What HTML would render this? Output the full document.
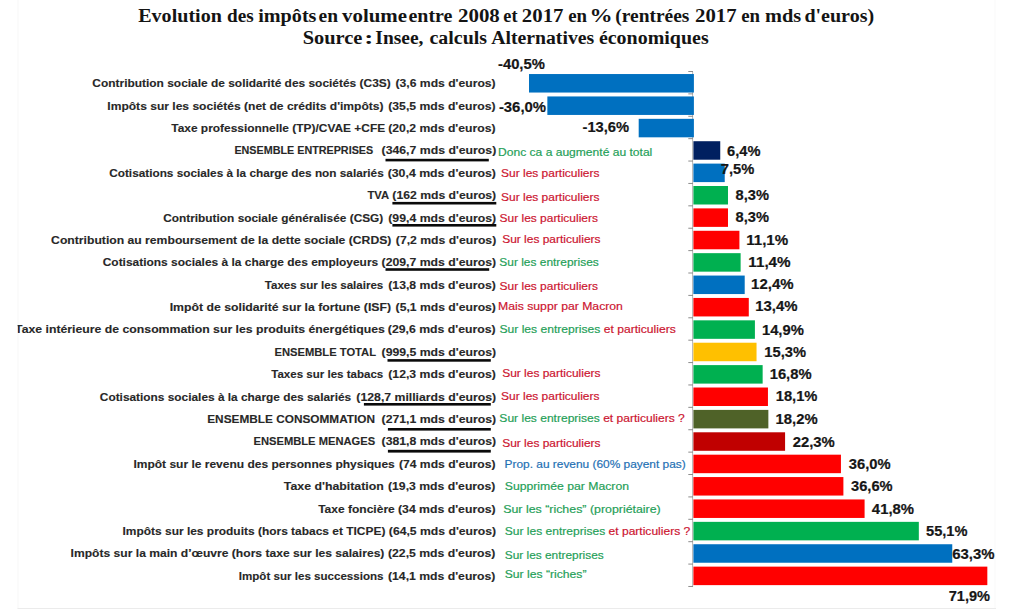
<!DOCTYPE html><html><head><meta charset="utf-8"><style>html,body{margin:0;padding:0;background:#fff;width:1017px;height:614px;overflow:hidden}svg{display:block}text{white-space:pre}.lb{font-family:"Liberation Sans",sans-serif;font-weight:bold;font-size:11.4px;fill:#282828;stroke:#282828;stroke-width:0.12px}.vl{font-family:"Liberation Sans",sans-serif;font-weight:bold;font-size:14px;fill:#161616;stroke:#161616;stroke-width:0.2px}.an{font-family:"Liberation Sans",sans-serif;font-size:10.7px;stroke-width:0.18px}.tt{font-family:"Liberation Serif",serif;font-weight:bold;font-size:19.6px;fill:#141414}</style></head><body>
<svg width="1017" height="614" viewBox="0 0 1017 614">
<rect width="1017" height="614" fill="#fff"/>
<defs><clipPath id="cl"><rect x="17.6" y="0" width="1000" height="614"/></clipPath></defs>
<line x1="18" y1="0" x2="18" y2="608.5" stroke="#f7f7f7" stroke-width="1"/>
<line x1="995" y1="0" x2="995" y2="608.5" stroke="#f9f9f9" stroke-width="1"/>
<line x1="17.5" y1="608.5" x2="996" y2="608.5" stroke="#ebebeb" stroke-width="1"/>
<text x="138.20" y="21.80" class="tt" textLength="83.66" lengthAdjust="spacingAndGlyphs">Evolution</text>
<text x="227.03" y="21.80" class="tt" textLength="26.73" lengthAdjust="spacingAndGlyphs">des</text>
<text x="258.20" y="21.80" class="tt" textLength="58.29" lengthAdjust="spacingAndGlyphs">impôts</text>
<text x="318.52" y="21.80" class="tt" textLength="19.47" lengthAdjust="spacingAndGlyphs">en</text>
<text x="342.00" y="21.80" class="tt" textLength="65.04" lengthAdjust="spacingAndGlyphs">volume</text>
<text x="408.50" y="21.80" class="tt" textLength="43.95" lengthAdjust="spacingAndGlyphs">entre</text>
<text x="457.96" y="21.80" class="tt" textLength="41.87" lengthAdjust="spacingAndGlyphs">2008</text>
<text x="503.36" y="21.80" class="tt" textLength="14.17" lengthAdjust="spacingAndGlyphs">et</text>
<text x="521.87" y="21.80" class="tt" textLength="41.65" lengthAdjust="spacingAndGlyphs">2017</text>
<text x="568.14" y="21.80" class="tt" textLength="18.84" lengthAdjust="spacingAndGlyphs">en</text>
<text x="589.49" y="21.80" class="tt" textLength="23.11" lengthAdjust="spacingAndGlyphs">%</text>
<text x="615.22" y="21.80" class="tt" textLength="74.21" lengthAdjust="spacingAndGlyphs">(rentrées</text>
<text x="695.07" y="21.80" class="tt" textLength="41.55" lengthAdjust="spacingAndGlyphs">2017</text>
<text x="741.24" y="21.80" class="tt" textLength="18.84" lengthAdjust="spacingAndGlyphs">en</text>
<text x="764.99" y="21.80" class="tt" textLength="36.18" lengthAdjust="spacingAndGlyphs">mds</text>
<text x="804.40" y="21.80" class="tt" textLength="69.74" lengthAdjust="spacingAndGlyphs">d'euros)</text>
<text x="302.68" y="44.20" class="tt" textLength="59.75" lengthAdjust="spacingAndGlyphs">Source</text>
<text x="364.22" y="44.20" class="tt" textLength="9.08" lengthAdjust="spacingAndGlyphs">:</text>
<text x="375.32" y="44.20" class="tt" textLength="48.10" lengthAdjust="spacingAndGlyphs">Insee,</text>
<text x="429.50" y="44.20" class="tt" textLength="57.47" lengthAdjust="spacingAndGlyphs">calculs</text>
<text x="491.20" y="44.20" class="tt" textLength="103.00" lengthAdjust="spacingAndGlyphs">Alternatives</text>
<text x="598.90" y="44.20" class="tt" textLength="109.80" lengthAdjust="spacingAndGlyphs">économiques</text>
<line x1="692.6" y1="72.1" x2="692.6" y2="587.07" stroke="#b4b4b4" stroke-width="1"/>
<rect x="529.01" y="74.04" width="164.89" height="18.50" fill="#0070C0"/>
<rect x="547.36" y="96.44" width="146.54" height="18.50" fill="#0070C0"/>
<rect x="638.69" y="118.82" width="55.21" height="18.50" fill="#0070C0"/>
<rect x="693.40" y="141.21" width="26.85" height="18.50" fill="#002060"/>
<rect x="693.40" y="163.60" width="31.33" height="18.50" fill="#0070C0"/>
<rect x="693.40" y="186.00" width="34.59" height="18.50" fill="#00B050"/>
<rect x="693.40" y="208.38" width="34.59" height="18.50" fill="#FF0000"/>
<rect x="693.40" y="230.78" width="46.01" height="18.50" fill="#FF0000"/>
<rect x="693.40" y="253.16" width="47.23" height="18.50" fill="#00B050"/>
<rect x="693.40" y="275.56" width="51.31" height="18.50" fill="#0070C0"/>
<rect x="693.40" y="297.94" width="55.39" height="18.50" fill="#FF0000"/>
<rect x="693.40" y="320.33" width="61.51" height="18.50" fill="#00B050"/>
<rect x="693.40" y="342.72" width="63.14" height="18.50" fill="#FFC000"/>
<rect x="693.40" y="365.11" width="69.25" height="18.50" fill="#00B050"/>
<rect x="693.40" y="387.51" width="74.55" height="18.50" fill="#FF0000"/>
<rect x="693.40" y="409.90" width="74.96" height="18.50" fill="#4F6228"/>
<rect x="693.40" y="432.29" width="91.68" height="18.50" fill="#C00000"/>
<rect x="693.40" y="454.68" width="147.54" height="18.50" fill="#FF0000"/>
<rect x="693.40" y="477.06" width="149.99" height="18.50" fill="#FF0000"/>
<rect x="693.40" y="499.45" width="171.19" height="18.50" fill="#FF0000"/>
<rect x="693.40" y="521.85" width="225.43" height="18.50" fill="#00B050"/>
<rect x="693.40" y="544.24" width="258.86" height="18.50" fill="#0070C0"/>
<rect x="693.40" y="566.63" width="293.93" height="18.50" fill="#FF0000"/>
<line x1="688.3" y1="71.50" x2="693" y2="71.50" stroke="#8c8c8c" stroke-width="1"/>
<line x1="688.3" y1="93.89" x2="693" y2="93.89" stroke="#8c8c8c" stroke-width="1"/>
<line x1="688.3" y1="116.28" x2="693" y2="116.28" stroke="#8c8c8c" stroke-width="1"/>
<line x1="688.3" y1="138.67" x2="693" y2="138.67" stroke="#8c8c8c" stroke-width="1"/>
<line x1="688.3" y1="161.06" x2="693" y2="161.06" stroke="#8c8c8c" stroke-width="1"/>
<line x1="688.3" y1="183.45" x2="693" y2="183.45" stroke="#8c8c8c" stroke-width="1"/>
<line x1="688.3" y1="205.84" x2="693" y2="205.84" stroke="#8c8c8c" stroke-width="1"/>
<line x1="688.3" y1="228.23" x2="693" y2="228.23" stroke="#8c8c8c" stroke-width="1"/>
<line x1="688.3" y1="250.62" x2="693" y2="250.62" stroke="#8c8c8c" stroke-width="1"/>
<line x1="688.3" y1="273.01" x2="693" y2="273.01" stroke="#8c8c8c" stroke-width="1"/>
<line x1="688.3" y1="295.40" x2="693" y2="295.40" stroke="#8c8c8c" stroke-width="1"/>
<line x1="688.3" y1="317.79" x2="693" y2="317.79" stroke="#8c8c8c" stroke-width="1"/>
<line x1="688.3" y1="340.18" x2="693" y2="340.18" stroke="#8c8c8c" stroke-width="1"/>
<line x1="688.3" y1="362.57" x2="693" y2="362.57" stroke="#8c8c8c" stroke-width="1"/>
<line x1="688.3" y1="384.96" x2="693" y2="384.96" stroke="#8c8c8c" stroke-width="1"/>
<line x1="688.3" y1="407.35" x2="693" y2="407.35" stroke="#8c8c8c" stroke-width="1"/>
<line x1="688.3" y1="429.74" x2="693" y2="429.74" stroke="#8c8c8c" stroke-width="1"/>
<line x1="688.3" y1="452.13" x2="693" y2="452.13" stroke="#8c8c8c" stroke-width="1"/>
<line x1="688.3" y1="474.52" x2="693" y2="474.52" stroke="#8c8c8c" stroke-width="1"/>
<line x1="688.3" y1="496.91" x2="693" y2="496.91" stroke="#8c8c8c" stroke-width="1"/>
<line x1="688.3" y1="519.30" x2="693" y2="519.30" stroke="#8c8c8c" stroke-width="1"/>
<line x1="688.3" y1="541.69" x2="693" y2="541.69" stroke="#8c8c8c" stroke-width="1"/>
<line x1="688.3" y1="564.08" x2="693" y2="564.08" stroke="#8c8c8c" stroke-width="1"/>
<line x1="688.3" y1="586.47" x2="693" y2="586.47" stroke="#8c8c8c" stroke-width="1"/>
<text x="92.32" y="87.20" class="lb" textLength="298.43" lengthAdjust="spacingAndGlyphs">Contribution sociale de solidarité des sociétés (C3S)</text>
<text x="395.59" y="87.20" class="lb" textLength="100.01" lengthAdjust="spacingAndGlyphs">(3,6 mds d'euros)</text>
<text x="498.01" y="68.60" class="vl" textLength="46.84" lengthAdjust="spacingAndGlyphs">-40,5%</text>
<text x="107.32" y="109.59" class="lb" textLength="276.23" lengthAdjust="spacingAndGlyphs">Impôts sur les sociétés (net de crédits d'impôts)</text>
<text x="388.29" y="109.59" class="lb" textLength="107.27" lengthAdjust="spacingAndGlyphs">(35,5 mds d'euros)</text>
<text x="498.90" y="112.10" class="vl" textLength="47.15" lengthAdjust="spacingAndGlyphs">-36,0%</text>
<text x="171.28" y="131.98" class="lb" textLength="213.89" lengthAdjust="spacingAndGlyphs">Taxe professionnelle (TP)/CVAE +CFE</text>
<text x="388.29" y="131.98" class="lb" textLength="107.27" lengthAdjust="spacingAndGlyphs">(20,2 mds d'euros)</text>
<text x="582.51" y="132.00" class="vl" textLength="46.63" lengthAdjust="spacingAndGlyphs">-13,6%</text>
<text x="234.40" y="154.37" class="lb" textLength="138.79" lengthAdjust="spacingAndGlyphs">ENSEMBLE ENTREPRISES</text>
<text x="381.59" y="154.37" class="lb" textLength="114.69" lengthAdjust="spacingAndGlyphs">(346,7 mds d'euros)</text>
<rect x="385.5" y="158.8" width="103.3" height="2.6" fill="#0a0a0a"/>
<text x="498.03" y="155.60" class="an" textLength="154.27" lengthAdjust="spacingAndGlyphs"><tspan fill="#1FA058" stroke="#1FA058">Donc ca a augmenté au total</tspan></text>
<text x="727.09" y="155.80" class="vl" textLength="33.37" lengthAdjust="spacingAndGlyphs">6,4%</text>
<text x="109.23" y="176.76" class="lb" textLength="274.48" lengthAdjust="spacingAndGlyphs">Cotisations sociales à la charge des non salariés</text>
<text x="387.68" y="176.76" class="lb" textLength="108.28" lengthAdjust="spacingAndGlyphs">(30,4 mds d'euros)</text>
<text x="501.06" y="176.80" class="an" textLength="98.36" lengthAdjust="spacingAndGlyphs"><tspan fill="#CC1530" stroke="#CC1530">Sur les particuliers</tspan></text>
<text x="720.81" y="173.70" class="vl" textLength="33.44" lengthAdjust="spacingAndGlyphs">7,5%</text>
<text x="367.49" y="199.15" class="lb" textLength="21.70" lengthAdjust="spacingAndGlyphs">TVA</text>
<text x="392.39" y="199.15" class="lb" textLength="103.80" lengthAdjust="spacingAndGlyphs">(162 mds d'euros)</text>
<rect x="392.4" y="201.9" width="103.9" height="2.6" fill="#0a0a0a"/>
<text x="501.06" y="200.60" class="an" textLength="98.36" lengthAdjust="spacingAndGlyphs"><tspan fill="#CC1530" stroke="#CC1530">Sur les particuliers</tspan></text>
<text x="735.56" y="200.10" class="vl" textLength="33.40" lengthAdjust="spacingAndGlyphs">8,3%</text>
<text x="163.23" y="221.54" class="lb" textLength="220.06" lengthAdjust="spacingAndGlyphs">Contribution sociale généralisée (CSG)</text>
<text x="388.29" y="221.54" class="lb" textLength="107.88" lengthAdjust="spacingAndGlyphs">(99,4 mds d'euros)</text>
<rect x="392.4" y="224.0" width="103.9" height="2.6" fill="#0a0a0a"/>
<text x="499.56" y="221.80" class="an" textLength="98.36" lengthAdjust="spacingAndGlyphs"><tspan fill="#CC1530" stroke="#CC1530">Sur les particuliers</tspan></text>
<text x="735.56" y="222.00" class="vl" textLength="33.40" lengthAdjust="spacingAndGlyphs">8,3%</text>
<text x="51.11" y="243.93" class="lb" textLength="340.28" lengthAdjust="spacingAndGlyphs">Contribution au remboursement de la dette sociale (CRDS)</text>
<text x="395.89" y="243.93" class="lb" textLength="100.32" lengthAdjust="spacingAndGlyphs">(7,2 mds d'euros)</text>
<text x="502.16" y="243.40" class="an" textLength="98.36" lengthAdjust="spacingAndGlyphs"><tspan fill="#CC1530" stroke="#CC1530">Sur les particuliers</tspan></text>
<text x="746.19" y="244.50" class="vl" textLength="41.99" lengthAdjust="spacingAndGlyphs">11,1%</text>
<text x="102.72" y="266.32" class="lb" textLength="275.46" lengthAdjust="spacingAndGlyphs">Cotisations sociales à la charge des employeurs</text>
<text x="381.59" y="266.32" class="lb" textLength="114.49" lengthAdjust="spacingAndGlyphs">(209,7 mds d'euros)</text>
<rect x="385.5" y="268.2" width="103.7" height="2.6" fill="#0a0a0a"/>
<text x="499.36" y="265.80" class="an" textLength="99.38" lengthAdjust="spacingAndGlyphs"><tspan fill="#1FA058" stroke="#1FA058">Sur les entreprises</tspan></text>
<text x="748.28" y="266.50" class="vl" textLength="42.40" lengthAdjust="spacingAndGlyphs">11,4%</text>
<text x="264.78" y="288.71" class="lb" textLength="118.50" lengthAdjust="spacingAndGlyphs">Taxes sur les salaires</text>
<text x="388.29" y="288.71" class="lb" textLength="107.58" lengthAdjust="spacingAndGlyphs">(13,8 mds d'euros)</text>
<text x="499.56" y="289.60" class="an" textLength="98.36" lengthAdjust="spacingAndGlyphs"><tspan fill="#CC1530" stroke="#CC1530">Sur les particuliers</tspan></text>
<text x="751.10" y="289.30" class="vl" textLength="42.48" lengthAdjust="spacingAndGlyphs">12,4%</text>
<text x="169.70" y="311.10" class="lb" textLength="221.38" lengthAdjust="spacingAndGlyphs">Impôt de solidarité sur la fortune (ISF)</text>
<text x="395.59" y="311.10" class="lb" textLength="100.32" lengthAdjust="spacingAndGlyphs">(5,1 mds d'euros)</text>
<text x="498.02" y="309.50" class="an" textLength="124.89" lengthAdjust="spacingAndGlyphs"><tspan fill="#CC1530" stroke="#CC1530">Mais suppr par Macron</tspan></text>
<text x="755.21" y="311.30" class="vl" textLength="42.27" lengthAdjust="spacingAndGlyphs">13,4%</text>
<text x="15.08" y="333.49" class="lb" textLength="369.73" lengthAdjust="spacingAndGlyphs" clip-path="url(#cl)">Taxe intérieure de consommation sur les produits énergétiques</text>
<text x="387.89" y="333.49" class="lb" textLength="107.68" lengthAdjust="spacingAndGlyphs">(29,6 mds d'euros)</text>
<text x="499.46" y="332.80" class="an" textLength="176.29" lengthAdjust="spacingAndGlyphs"><tspan fill="#1FA058" stroke="#1FA058">Sur les entreprises</tspan><tspan fill="#CC1530" stroke="#CC1530"> et particuliers</tspan></text>
<text x="761.91" y="334.50" class="vl" textLength="41.96" lengthAdjust="spacingAndGlyphs">14,9%</text>
<text x="274.47" y="355.88" class="lb" textLength="101.56" lengthAdjust="spacingAndGlyphs">ENSEMBLE TOTAL</text>
<text x="381.59" y="355.88" class="lb" textLength="114.49" lengthAdjust="spacingAndGlyphs">(999,5 mds d'euros)</text>
<rect x="387.5" y="359.1" width="103.3" height="2.6" fill="#0a0a0a"/>
<text x="764.32" y="356.50" class="vl" textLength="41.66" lengthAdjust="spacingAndGlyphs">15,3%</text>
<text x="271.28" y="378.27" class="lb" textLength="111.97" lengthAdjust="spacingAndGlyphs">Taxes sur les tabacs</text>
<text x="388.29" y="378.27" class="lb" textLength="107.58" lengthAdjust="spacingAndGlyphs">(12,3 mds d'euros)</text>
<text x="502.16" y="376.90" class="an" textLength="98.36" lengthAdjust="spacingAndGlyphs"><tspan fill="#CC1530" stroke="#CC1530">Sur les particuliers</tspan></text>
<text x="769.71" y="378.50" class="vl" textLength="41.86" lengthAdjust="spacingAndGlyphs">16,8%</text>
<text x="99.83" y="400.66" class="lb" textLength="251.38" lengthAdjust="spacingAndGlyphs">Cotisations sociales à la charge des salariés</text>
<text x="356.39" y="400.66" class="lb" textLength="139.71" lengthAdjust="spacingAndGlyphs">(128,7 milliards d'euros)</text>
<rect x="363.9" y="403.0" width="126.9" height="2.6" fill="#0a0a0a"/>
<text x="501.06" y="399.60" class="an" textLength="98.36" lengthAdjust="spacingAndGlyphs"><tspan fill="#CC1530" stroke="#CC1530">Sur les particuliers</tspan></text>
<text x="775.72" y="401.30" class="vl" textLength="41.66" lengthAdjust="spacingAndGlyphs">18,1%</text>
<text x="207.23" y="423.05" class="lb" textLength="167.88" lengthAdjust="spacingAndGlyphs">ENSEMBLE CONSOMMATION</text>
<text x="381.59" y="423.05" class="lb" textLength="114.49" lengthAdjust="spacingAndGlyphs">(271,1 mds d'euros)</text>
<rect x="387.9" y="428.0" width="102.9" height="2.6" fill="#0a0a0a"/>
<text x="499.36" y="422.30" class="an" textLength="185.48" lengthAdjust="spacingAndGlyphs"><tspan fill="#1FA058" stroke="#1FA058">Sur les entreprises</tspan><tspan fill="#CC1530" stroke="#CC1530"> et particuliers ?</tspan></text>
<text x="775.61" y="424.40" class="vl" textLength="42.07" lengthAdjust="spacingAndGlyphs">18,2%</text>
<text x="253.57" y="445.44" class="lb" textLength="121.52" lengthAdjust="spacingAndGlyphs">ENSEMBLE MENAGES</text>
<text x="381.59" y="445.44" class="lb" textLength="114.49" lengthAdjust="spacingAndGlyphs">(381,8 mds d'euros)</text>
<rect x="387.9" y="449.8" width="102.9" height="2.8" fill="#0a0a0a"/>
<text x="502.16" y="446.50" class="an" textLength="98.36" lengthAdjust="spacingAndGlyphs"><tspan fill="#CC1530" stroke="#CC1530">Sur les particuliers</tspan></text>
<text x="792.68" y="446.90" class="vl" textLength="42.10" lengthAdjust="spacingAndGlyphs">22,3%</text>
<text x="133.42" y="467.83" class="lb" textLength="261.35" lengthAdjust="spacingAndGlyphs">Impôt sur le revenu des personnes physiques</text>
<text x="398.99" y="467.83" class="lb" textLength="96.48" lengthAdjust="spacingAndGlyphs">(74 mds d'euros)</text>
<text x="504.55" y="467.70" class="an" textLength="181.19" lengthAdjust="spacingAndGlyphs"><tspan fill="#2470B4" stroke="#2470B4">Prop. au revenu (60% payent pas)</tspan></text>
<text x="848.83" y="468.70" class="vl" textLength="41.74" lengthAdjust="spacingAndGlyphs">36,0%</text>
<text x="283.88" y="490.22" class="lb" textLength="99.95" lengthAdjust="spacingAndGlyphs">Taxe d'habitation</text>
<text x="387.99" y="490.22" class="lb" textLength="107.47" lengthAdjust="spacingAndGlyphs">(19,3 mds d'euros)</text>
<text x="504.75" y="489.90" class="an" textLength="124.27" lengthAdjust="spacingAndGlyphs"><tspan fill="#1FA058" stroke="#1FA058">Supprimée par Macron</tspan></text>
<text x="851.03" y="491.00" class="vl" textLength="41.54" lengthAdjust="spacingAndGlyphs">36,6%</text>
<text x="318.18" y="512.61" class="lb" textLength="76.58" lengthAdjust="spacingAndGlyphs">Taxe foncière</text>
<text x="397.99" y="512.61" class="lb" textLength="97.59" lengthAdjust="spacingAndGlyphs">(34 mds d'euros)</text>
<text x="503.24" y="512.60" class="an" textLength="157.51" lengthAdjust="spacingAndGlyphs"><tspan fill="#1FA058" stroke="#1FA058">Sur les “riches” (propriétaire)</tspan></text>
<text x="871.88" y="513.50" class="vl" textLength="42.10" lengthAdjust="spacingAndGlyphs">41,8%</text>
<text x="122.52" y="535.00" class="lb" textLength="262.87" lengthAdjust="spacingAndGlyphs">Impôts sur les produits (hors tabacs et TICPE)</text>
<text x="388.89" y="535.00" class="lb" textLength="107.17" lengthAdjust="spacingAndGlyphs">(64,5 mds d'euros)</text>
<text x="504.76" y="534.90" class="an" textLength="185.48" lengthAdjust="spacingAndGlyphs"><tspan fill="#1FA058" stroke="#1FA058">Sur les entreprises</tspan><tspan fill="#CC1530" stroke="#CC1530"> et particuliers ?</tspan></text>
<text x="926.06" y="536.10" class="vl" textLength="41.41" lengthAdjust="spacingAndGlyphs">55,1%</text>
<text x="70.61" y="557.39" class="lb" textLength="313.78" lengthAdjust="spacingAndGlyphs">Impôts sur la main d’œuvre (hors taxe sur les salaires)</text>
<text x="387.99" y="557.39" class="lb" textLength="107.47" lengthAdjust="spacingAndGlyphs">(22,5 mds d'euros)</text>
<text x="504.77" y="559.30" class="an" textLength="98.98" lengthAdjust="spacingAndGlyphs"><tspan fill="#1FA058" stroke="#1FA058">Sur les entreprises</tspan></text>
<text x="952.18" y="558.70" class="vl" textLength="42.30" lengthAdjust="spacingAndGlyphs">63,3%</text>
<text x="238.75" y="579.78" class="lb" textLength="144.82" lengthAdjust="spacingAndGlyphs">Impôt sur les successions</text>
<text x="387.99" y="579.78" class="lb" textLength="107.47" lengthAdjust="spacingAndGlyphs">(14,1 mds d'euros)</text>
<text x="504.75" y="578.20" class="an" textLength="81.72" lengthAdjust="spacingAndGlyphs"><tspan fill="#1FA058" stroke="#1FA058">Sur les “riches”</tspan></text>
<text x="948.72" y="601.20" class="vl" textLength="41.25" lengthAdjust="spacingAndGlyphs">71,9%</text>
</svg></body></html>
